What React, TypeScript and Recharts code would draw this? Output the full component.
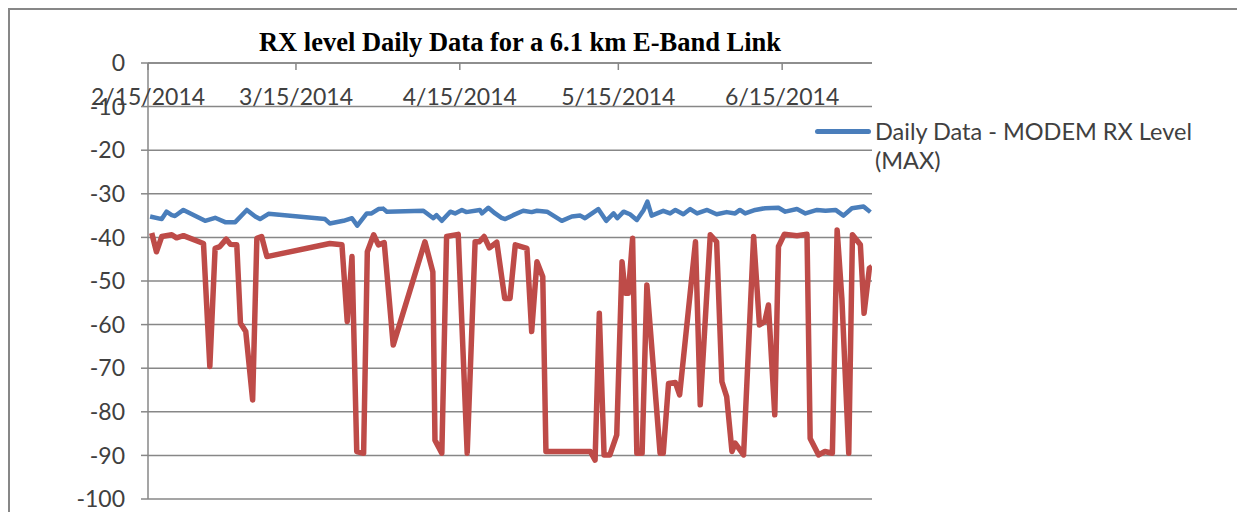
import React from 'react';
import { LineChart, Line, XAxis, YAxis, CartesianGrid, Legend } from 'recharts';

// days counted from 2/15/2014
const tickDays = [0, 28, 59, 89, 120];
const tickLabels = ['2/15/2014', '3/15/2014', '4/15/2014', '5/15/2014', '6/15/2014'];
const yTicks = [0, -10, -20, -30, -40, -50, -60, -70, -80, -90, -100];

const maxDays = [0.4, 2.6, 3.5, 4.5, 5.1, 6.7, 10.8, 12.7, 14.6, 16.5, 18.7, 20.3, 21.2, 22.8, 33.5, 34.4, 37, 38.6, 39.6, 41.4, 42.3, 43.6, 44.5, 45.2, 52.1, 54, 54.6, 55.6, 57.2, 58.1, 59.4, 60.2, 62.8, 63.2, 64.4, 65.7, 66.9, 67.6, 69.1, 71, 72.6, 73.6, 75.5, 78.3, 80.2, 81.8, 82.7, 85.2, 86.7, 88.1, 88.8, 90, 91.2, 92.5, 93.8, 94.5, 95.3, 97.5, 98.8, 99.8, 101.3, 102.6, 103.9, 105.8, 107.6, 109.5, 111.1, 112, 113, 114.9, 116.8, 119.3, 120.6, 122.8, 124.4, 126.6, 128.2, 130.1, 131.6, 133.2, 135.4, 136.7];
const maxLevel = [-35.2, -35.8, -34.1, -34.9, -35.1, -33.7, -36.2, -35.5, -36.5, -36.5, -33.7, -35.2, -35.8, -34.6, -35.8, -36.8, -36.2, -35.6, -37.3, -34.5, -34.5, -33.5, -33.4, -34.1, -33.9, -35.6, -34.9, -36.2, -34.1, -34.5, -33.7, -34.2, -33.7, -34.5, -33.2, -34.5, -35.5, -35.8, -34.9, -33.9, -34.2, -33.9, -34.1, -36.2, -35.2, -35, -35.6, -33.5, -36.2, -34.5, -35.6, -34.1, -34.7, -36, -33.7, -31.8, -35, -33.9, -34.5, -33.7, -34.7, -33.5, -34.5, -33.7, -34.7, -34.2, -34.5, -33.7, -34.5, -33.7, -33.3, -33.2, -34.1, -33.5, -34.5, -33.7, -33.9, -33.7, -35, -33.3, -32.9, -34.2];

const minDays = [0.7, 1.6, 2.6, 4.5, 5.4, 6.7, 10.5, 11.7, 12.7, 13.6, 14.8, 15.6, 16.8, 17.5, 18.5, 19.8, 20.6, 21.5, 22.5, 34.4, 36.7, 37.7, 38.6, 39.5, 40.8, 41.5, 42.7, 43.6, 44.7, 46.4, 52.4, 53.9, 54.3, 55.6, 56.5, 58.7, 60.4, 61.9, 62.7, 63.6, 64.6, 66, 67.5, 68.5, 69.5, 71.7, 72.6, 73.6, 74.7, 75.3, 83.7, 84.6, 85.4, 86.3, 87.4, 88.7, 89.7, 90.3, 90.9, 91.7, 92.5, 93.5, 94.4, 96.9, 97.5, 98.5, 99.8, 100.6, 103.6, 104.5, 106.4, 107.6, 108.6, 109.5, 110.5, 111.1, 112.7, 114.6, 115.7, 116.7, 117.4, 118.6, 119.3, 120.4, 122.8, 124.7, 125.3, 126.9, 128.1, 129.5, 130.4, 131.3, 132.6, 133.3, 134.8, 135.5, 136.5, 137];
const minLevel = [-39, -43.3, -39.8, -39.4, -40.1, -39.6, -41.4, -69.6, -42.5, -42.1, -40.4, -41.6, -41.7, -59.7, -61.6, -77.3, -40.2, -39.8, -44.4, -41.4, -41.7, -59.3, -44.4, -89.1, -89.5, -43.3, -39.4, -41.7, -41.2, -64.7, -41, -47.9, -86.5, -89.5, -39.8, -39.3, -89.5, -41, -41, -39.8, -42.4, -41.1, -54, -54, -41.7, -42.5, -61.6, -45.6, -49, -89.1, -89.1, -91.1, -57.4, -89.9, -89.9, -85.3, -45.6, -52.8, -52.8, -40.2, -89.5, -89.5, -50.9, -89.5, -89.5, -73.5, -73.3, -76.1, -41, -78.4, -39.4, -41, -73.1, -76.5, -89.1, -87.2, -89.9, -39.8, -60.1, -59.3, -55.5, -80.7, -42.1, -39.3, -39.6, -39.3, -86.1, -89.9, -89.1, -89.5, -38.3, -54, -89.5, -39.4, -41.7, -57.4, -47.1, -46.7];

const maxData = maxDays.map((d, i) => ({ day: d, level: maxLevel[i] }));
const minData = minDays.map((d, i) => ({ day: d, level: minLevel[i] }));

const axisGray = '#878787';
const textFont = 'Lato';

const renderLegend = (props: any) => {
  const items = (props.payload || []).filter((p: any) => p.type !== 'none');
  return (
    <div>
      {items.map((item: any) => (
        <div key={item.value} style={{ display: 'flex', alignItems: 'flex-start' }}>
          <div style={{ width: 56, height: 5, borderRadius: 3, background: item.color, marginTop: 12, marginRight: 4 }} />
          <div style={{ width: 350, fontSize: 23.5, lineHeight: '29px', color: '#404040', fontFamily: textFont }}>{item.value}</div>
        </div>
      ))}
    </div>
  );
};

export default function App() {
  return (
    <div style={{ position: 'relative', width: 1229, height: 503, borderTop: `2px solid ${axisGray}`, borderLeft: `2px solid ${axisGray}`, borderRight: `2px solid ${axisGray}`, overflow: 'hidden' }}>
      <div style={{ position: 'absolute', left: 0, top: 17, width: 1020, textAlign: 'center', fontFamily: '"Liberation Serif"', fontWeight: 'bold', fontSize: 26.5, lineHeight: '30px', color: '#000' }}>
        RX level Daily Data for a 6.1 km E-Band Link
      </div>
      <div style={{ position: 'absolute', left: 0, top: 0 }}>
        <LineChart width={1229} height={502} margin={{ top: 53, right: 367, left: 0, bottom: 13 }}>
          <CartesianGrid vertical={false} stroke={axisGray} strokeWidth={1.5} />
          <XAxis
            type="number"
            dataKey="day"
            domain={[0, 137]}
            ticks={tickDays}
            tickFormatter={(v: number) => tickLabels[tickDays.indexOf(v)]}
            orientation="top"
            mirror
            height={30}
            allowDataOverflow
            axisLine={{ stroke: axisGray, strokeWidth: 1.5 }}
            tickLine={{ stroke: axisGray, strokeWidth: 1.5 }}
            tickSize={7}
            tickMargin={19}
            tick={{ fill: '#404040', fontSize: 23, fontFamily: textFont }}
            interval={0}
          />
          <YAxis
            type="number"
            domain={[-100, 0]}
            ticks={yTicks}
            width={138}
            axisLine={{ stroke: axisGray, strokeWidth: 1.5 }}
            tickLine={{ stroke: axisGray, strokeWidth: 1.5 }}
            tickSize={7}
            tickMargin={16}
            tick={{ fill: '#404040', fontSize: 23, fontFamily: textFont }}
            interval={0}
          />
          <Legend
            layout="vertical"
            verticalAlign="middle"
            align="center"
            content={renderLegend}
            wrapperStyle={{ position: 'absolute', left: 805, top: 107, width: 420 }}
          />
          <Line
            data={maxData}
            dataKey="level"
            name="Daily Data - MODEM RX Level (MAX)"
            type="linear"
            stroke="#4a7ebb"
            strokeWidth={4.5}
            strokeLinejoin="round"
            dot={false}
            isAnimationActive={false}
          />
          <Line
            data={minData}
            dataKey="level"
            name="Daily Data - MODEM RX Level (MIN)"
            type="linear"
            stroke="#be4b48"
            strokeWidth={5.5}
            strokeLinejoin="round"
            dot={false}
            legendType="none"
            isAnimationActive={false}
          />
        </LineChart>
      </div>
    </div>
  );
}
